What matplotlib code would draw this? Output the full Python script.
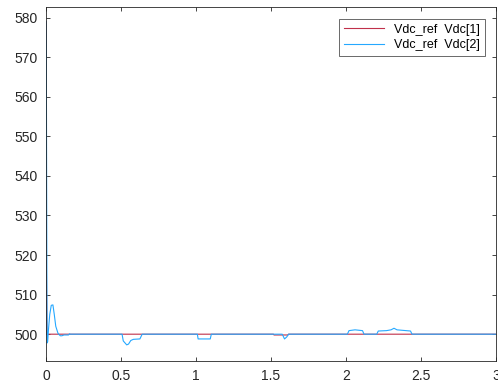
import matplotlib
matplotlib.use("Agg")
import matplotlib.pyplot as plt
import numpy as np

plt.rcParams['font.family'] = ['Liberation Sans', 'DejaVu Sans']

# Vdc[2] (blue)
t_vdc2 = [0, 0.002, 0.004, 0.006, 0.008, 0.011, 0.016, 0.025, 0.035, 0.046, 0.055, 0.065,
          0.08, 0.095, 0.106, 0.12, 0.15, 0.157, 0.162, 0.17,
          0.507, 0.515, 0.538, 0.55, 0.565, 0.582, 0.626, 0.641,
          1.009, 1.014, 1.095, 1.102,
          1.575, 1.59, 1.605, 1.617,
          2.009, 2.02, 2.06, 2.11, 2.12,
          2.205, 2.215, 2.27, 2.3, 2.32, 2.34, 2.43, 2.44,
          3.0]
v_vdc2 = [579, 572, 540, 510, 497.8, 498.1, 501, 505, 507.3, 507.4, 505, 502,
          500.2, 499.6, 499.6, 499.8, 499.8, 500.1, 500, 500,
          500, 498.3, 497.3, 497.5, 498.4, 498.7, 498.8, 500,
          500, 498.8, 498.8, 500,
          500, 498.8, 499.3, 500,
          500, 500.9, 501.1, 500.9, 500,
          500, 500.8, 500.9, 501.1, 501.5, 501.1, 500.8, 500,
          500]

# Vdc[1] (red)
t_vdc1 = [0, 0.002, 0.006, 1.516, 1.52, 1.612, 1.617, 3.0]
v_vdc1 = [579, 520, 500, 500, 499.8, 499.8, 500, 500]

fig = plt.figure(figsize=(4.98, 3.85), dpi=100)
ax = fig.add_axes([0.0924, 0.0631, 0.9036, 0.918])

ax.plot(t_vdc1, v_vdc1, color='#C0304A', lw=0.8, label='Vdc_ref  Vdc[1]')
ax.plot(t_vdc2, v_vdc2, color='#25A8FF', lw=0.8, label='Vdc_ref  Vdc[2]')

ax.set_xlim(0, 3)
ax.set_ylim(493.3, 582.6)
ax.set_xticks(np.arange(0, 3.01, 0.5))
ax.set_xticklabels(['0', '0.5', '1', '1.5', '2', '2.5', '3'])
ax.set_yticks(np.arange(500, 581, 10))

for s in ax.spines.values():
    s.set_color('#262626')
    s.set_linewidth(0.6)
ax.tick_params(direction='in', length=3, width=0.6, top=True, right=True,
               labelsize=10, colors='#262626', pad=6)

leg = ax.legend(loc='upper right', fontsize=9, frameon=True, fancybox=False,
                edgecolor='#262626', handlelength=3.2, borderaxespad=0.9,
                borderpad=0.4, labelspacing=0.3)
leg.get_frame().set_linewidth(0.6)

fig.savefig('out.png', dpi=100)
